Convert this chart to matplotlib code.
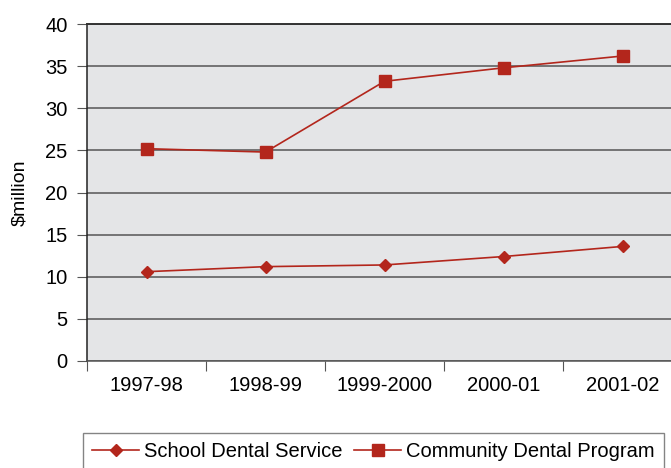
import matplotlib

matplotlib.use("Agg")
import matplotlib.pyplot as plt

plt.rcParams["font.family"] = ["Liberation Sans", "DejaVu Sans"]

years = ["1997-98", "1998-99", "1999-2000", "2000-01", "2001-02"]
school_dental = [10.6, 11.2, 11.4, 12.4, 13.6]
community_dental = [25.2, 24.8, 33.2, 34.8, 36.2]

LINE_RED = "#b3261c"
FS = 14.5

fig = plt.figure(figsize=(6.71, 4.68), dpi=100)
ax = fig.add_axes([87 / 671, 1 - 361 / 468, 595 / 671, 337 / 468])
ax.set_facecolor("#e4e5e7")

x = list(range(len(years)))
ax.plot(x, school_dental, color=LINE_RED, lw=1.2, marker="D", ms=6.5,
        label="School Dental Service")
ax.plot(x, community_dental, color=LINE_RED, lw=1.2, marker="s", ms=8,
        label="Community Dental Program")

ax.set_xlim(-0.5, len(years) - 0.5)
ax.set_ylim(0, 40)
ax.set_yticks(range(0, 41, 5))
ax.yaxis.grid(True, color="#555555", lw=1.1)
ax.set_axisbelow(True)

# category labels sit between the tick marks at cell boundaries
ax.set_xticks([i + 0.5 for i in range(len(years) - 1)] + [-0.5])
ax.set_xticklabels([])
ax.set_xticks(x, minor=True)
ax.set_xticklabels(years, minor=True, fontsize=FS)
ax.tick_params(axis="x", which="major", length=7, color="#555555", direction="out")
ax.tick_params(axis="x", which="minor", length=0, pad=11)
ax.tick_params(axis="y", length=7, color="#555555", labelsize=FS, pad=7)

# top frame line at 40 is drawn a bit heavier than the grid
ax.spines["right"].set_visible(False)
ax.spines["top"].set_color("#333333")
ax.spines["top"].set_linewidth(1.4)
ax.spines["left"].set_color("#222222")
ax.spines["bottom"].set_color("#555555")
ax.spines["left"].set_linewidth(1.1)
ax.spines["bottom"].set_linewidth(1.1)

ax.set_ylabel("$million", fontsize=14, labelpad=12)

leg = fig.legend(loc="upper left", bbox_to_anchor=(83 / 671, 1 - 433 / 468),
                 ncol=2, fontsize=FS, frameon=True, fancybox=False,
                 edgecolor="#666666", handlelength=2.35, columnspacing=0.55,
                 handletextpad=0.25, borderpad=0.45, borderaxespad=0)
leg.get_frame().set_linewidth(1.0)

fig.savefig("out.png", dpi=100)
